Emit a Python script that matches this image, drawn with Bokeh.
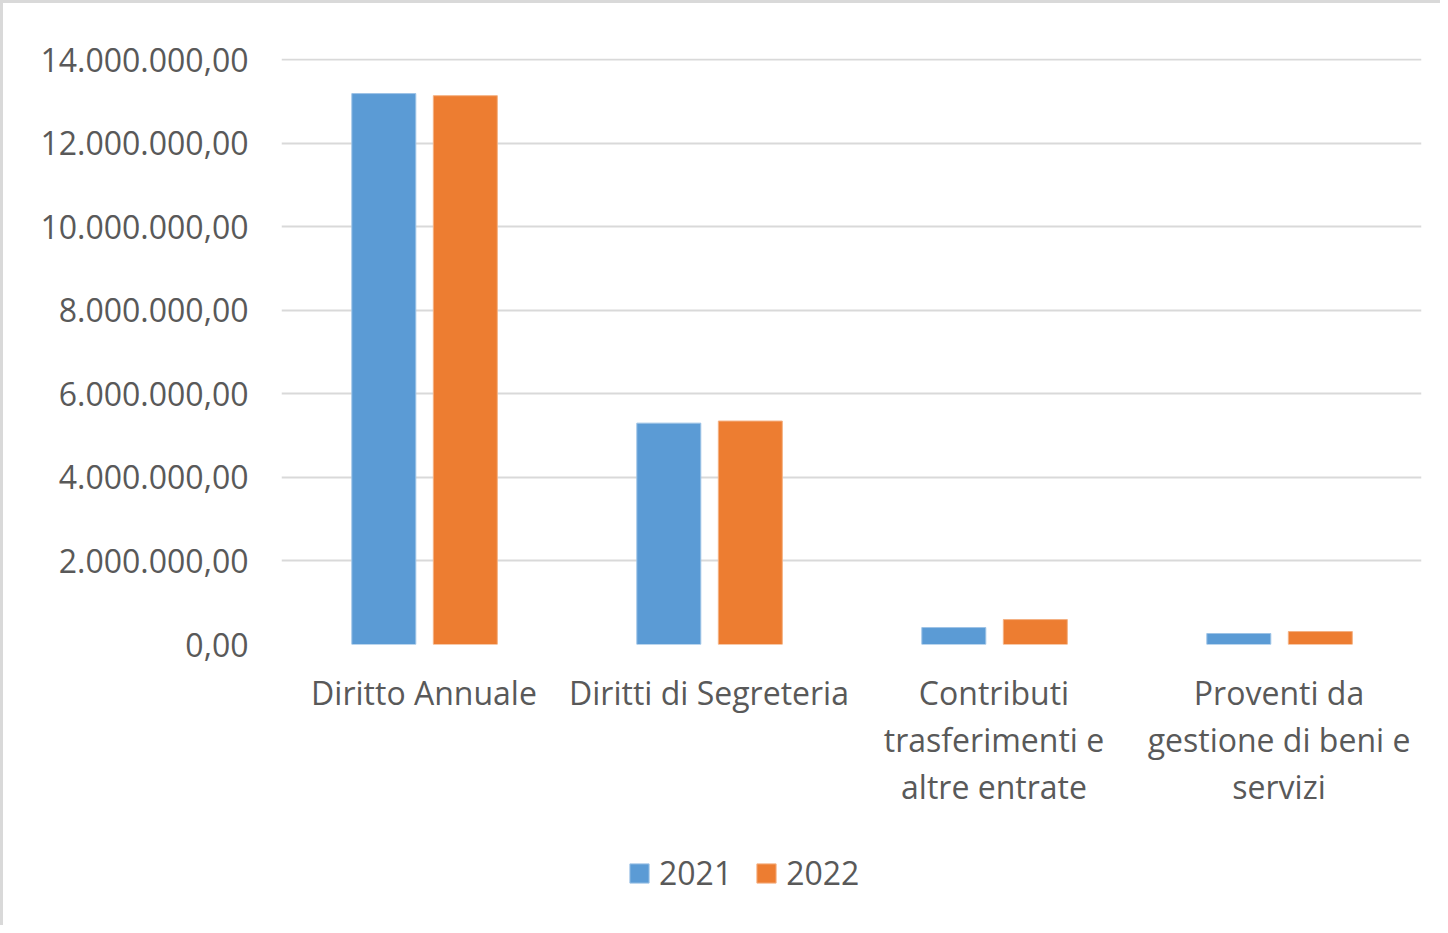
from bokeh.plotting import figure
from bokeh.layouts import column
from bokeh.models import ColumnDataSource, Range1d, FixedTicker, Legend, LegendItem
from bokeh.transform import dodge
from bokeh.embed import file_html
from bokeh.resources import INLINE

categories = ["Diritto Annuale", "Diritti di Segreteria", "Contributi\ntrasferimenti e\naltre entrate", "Proventi da\ngestione di beni e\nservizi"]
values_2021 = [13190000, 5300000, 406000, 263000]
values_2022 = [13140000, 5350000, 597000, 310000]
y_ticks = [0, 2000000, 4000000, 6000000, 8000000, 10000000, 12000000, 14000000]
y_tick_labels = ["0,00", "2.000.000,00", "4.000.000,00", "6.000.000,00", "8.000.000,00", "10.000.000,00", "12.000.000,00", "14.000.000,00"]
series_names = ["2021", "2022"]

FONT = "Open Sans"
TXT = "#595959"
BLUE = "#5B9BD5"
ORANGE = "#ED7D31"

source = ColumnDataSource(dict(cat=categories, v21=values_2021, v22=values_2022))

p = figure(x_range=categories, y_range=Range1d(0, 14030000), width=1437, height=830,
           output_backend="svg", toolbar_location=None,
           min_border_left=278, min_border_right=19, min_border_top=55, min_border_bottom=189)
p.outline_line_color = None

p.vbar(x=dodge("cat", -0.141, range=p.x_range), top="v21", width=0.2245, source=source,
       fill_color=BLUE, line_color="#9dc3e6", line_width=1)
p.vbar(x=dodge("cat", 0.145, range=p.x_range), top="v22", width=0.2245, source=source,
       fill_color=ORANGE, line_color="#f4b183", line_width=1)

p.yaxis.ticker = FixedTicker(ticks=y_ticks)
p.yaxis.major_label_overrides = {t: l for t, l in zip(y_ticks, y_tick_labels)}

for ax in (p.xaxis[0], p.yaxis[0]):
    ax.axis_line_color = None
    ax.major_tick_line_color = None
    ax.minor_tick_line_color = None
    ax.major_label_text_font = FONT
    ax.major_label_text_font_size = "32px"
    ax.major_label_text_color = TXT
p.yaxis.major_label_standoff = 27
p.xaxis.major_label_standoff = 20
p.xaxis.major_label_text_line_height = 1.1
p.xaxis.major_label_orientation = "horizontal"

p.xgrid.grid_line_color = None
p.ygrid.ticker = FixedTicker(ticks=y_ticks)
p.ygrid.grid_line_color = "#d9d9d9"
p.ygrid.grid_line_width = 2

# legend strip below the chart
p2 = figure(x_range=categories, y_range=Range1d(0, 1), width=1437, height=92,
            output_backend="svg", toolbar_location=None,
            min_border_left=0, min_border_right=0, min_border_top=0, min_border_bottom=0,
            x_axis_location=None, y_axis_location=None)
p2.outline_line_color = None
p2.grid.grid_line_color = None
l1 = p2.vbar(x="cat", top="v21", width=0.2, source=source, fill_color=BLUE, line_color="#9dc3e6", visible=False)
l2 = p2.vbar(x="cat", top="v22", width=0.2, source=source, fill_color=ORANGE, line_color="#f4b183", visible=False)

legend = Legend(items=[LegendItem(label=series_names[0], renderers=[l1]), LegendItem(label=series_names[1], renderers=[l2])],
                orientation="horizontal", location=(346, 31),
                glyph_width=24, glyph_height=24, label_standoff=8, spacing=22,
                label_text_font=FONT, label_text_font_size="32px", label_text_color=TXT,
                inactive_fill_alpha=0,
                border_line_color=None, background_fill_alpha=0, padding=5, margin=0)
p2.add_layout(legend, "center")

layout = column(p, p2, spacing=0,
                styles={"border-top": "3px solid #d9d9d9", "border-left": "3px solid #d9d9d9"})

open("out.html", "w").write(file_html(layout, INLINE))
